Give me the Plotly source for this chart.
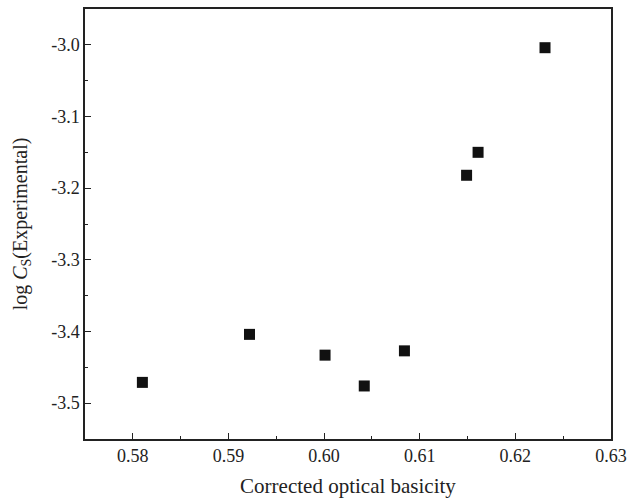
import plotly.graph_objects as go

x_vals = [0.5810, 0.5922, 0.6001, 0.6042, 0.6084, 0.6149, 0.6161, 0.6231]
y_vals = [-3.471, -3.404, -3.433, -3.476, -3.427, -3.182, -3.150, -3.004]
x_ticks = [0.58, 0.59, 0.60, 0.61, 0.62, 0.63]
y_ticks = [-3.5, -3.4, -3.3, -3.2, -3.1, -3.0]

font = "Liberation Serif, Times New Roman, serif"

fig = go.Figure()
fig.add_trace(go.Scatter(
    x=x_vals, y=y_vals, mode="markers",
    marker=dict(symbol="square", size=11, color="#111111", line=dict(width=0)),
    showlegend=False,
))

axis_common = dict(
    showline=True, linecolor="#222222", linewidth=1.5, mirror=True,
    ticks="inside", ticklen=6, tickwidth=1.2, tickcolor="#222222",
    showgrid=False, zeroline=False,
    tickfont=dict(family=font, size=18, color="#222222"),
    minor=dict(ticks="inside", ticklen=3, tickwidth=1.2, tickcolor="#222222"),
)

fig.update_xaxes(
    range=[0.575, 0.63], tickvals=x_ticks, ticktext=[f"{v:.2f}" for v in x_ticks],
    minor_dtick=0.005, minor_tick0=0.575,
    title=dict(text="Corrected optical basicity", font=dict(family=font, size=21, color="#222222"), standoff=13),
    **axis_common,
)
fig.update_yaxes(
    range=[-3.55, -2.95], tickvals=y_ticks, ticktext=[f"{v:.1f}" for v in y_ticks],
    minor_dtick=0.05, minor_tick0=-3.55,
    title=dict(text="log <i>C</i><sub>S</sub>(Experimental)", font=dict(family=font, size=20, color="#222222"), standoff=18),
    **axis_common,
)

fig.update_layout(
    width=628, height=501,
    margin=dict(l=85, r=17, t=9, b=62, autoexpand=False),
    paper_bgcolor="white", plot_bgcolor="white",
)
fig.write_html("out.html")
